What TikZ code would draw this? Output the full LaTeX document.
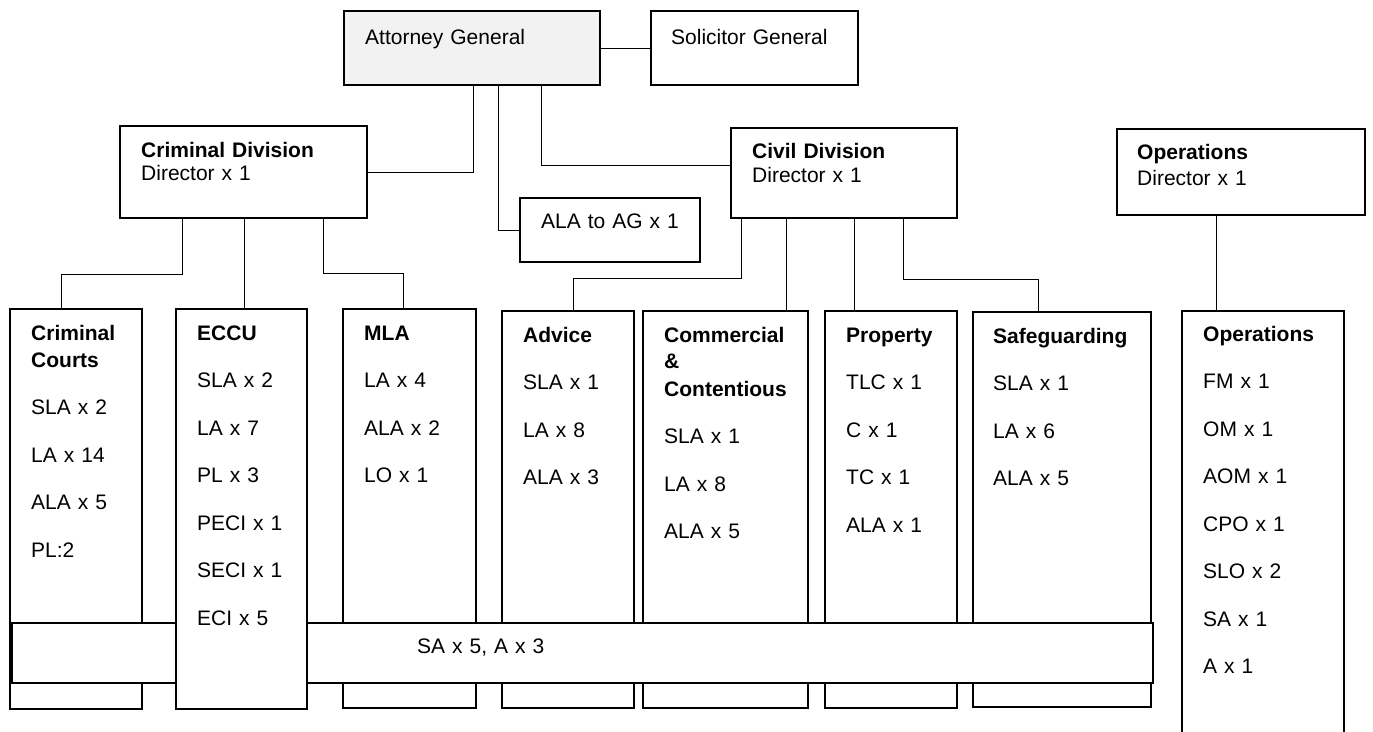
\documentclass[tikz,border=0pt]{standalone}
\usepackage{fontspec}
\setmainfont{Liberation Sans}
\definecolor{agfill}{HTML}{F2F2F2}
\tikzset{
  box/.style={draw, line width=1.8pt, anchor=north west, inner sep=0pt, outer sep=0pt, fill=white},
  band/.style={draw, line width=1.2pt, anchor=north west, inner sep=0pt, outer sep=0pt, fill=white},
  txt/.style={anchor=base west, inner sep=0pt, align=left, text width=#1, font=\fontsize{21}{47.5}\selectfont},
  txt/.default=170pt,
  link/.style={line width=1pt}
}
\begin{document}
\begin{tikzpicture}[x=1pt,y=-1pt]
\useasboundingbox (0,0) rectangle (1373,731);
%top row
\node[box, fill=agfill, minimum width=256pt, minimum height=74pt] (ag) at (344,11) {};
\node[box, minimum width=207pt, minimum height=74pt] (sg) at (651,11) {};
\node[box, minimum width=247pt, minimum height=92pt] (crim) at (120,126) {};
\node[box, minimum width=180pt, minimum height=64pt] (ala) at (520,198) {};
\node[box, minimum width=226pt, minimum height=90pt] (civ) at (731,128) {};
\node[box, minimum width=248pt, minimum height=86pt] (opsd) at (1117,129) {};
%units
\node[box, minimum width=132pt, minimum height=400pt] (cc) at (10,309) {};
\node[box, minimum width=133pt, minimum height=399pt] (mla) at (343,309) {};
\node[box, minimum width=132pt, minimum height=397pt] (adv) at (502,311) {};
\node[box, minimum width=165pt, minimum height=397pt] (com) at (643,311) {};
\node[box, minimum width=132pt, minimum height=397pt] (prop) at (825,311) {};
\node[box, minimum width=178pt, minimum height=395pt] (safe) at (973,312) {};
\node[box, minimum width=162pt, minimum height=460pt] (ops) at (1182,311) {};
\node[band, minimum width=1141pt, minimum height=60pt] (staff) at (12,623) {};
\node[box, minimum width=131pt, minimum height=400pt] (ec) at (176,309) {};
%links
\draw[link] (ag.east) -- (sg.west);
\draw[link] (crim.east) -| ([xshift=129pt]ag.south west);
\draw[link] (ala.west) -| ([xshift=154pt]ag.south west);
\draw[link] ([yshift=8pt]civ.west) -| ([xshift=197pt]ag.south west);
\draw[link] ([xshift=62pt]crim.south west) -- ++(0,56) -| ([xshift=51pt]cc.north west);
\draw[link] ([xshift=124pt]crim.south west) -- ([xshift=124pt]crim.south west |- ec.north);
\draw[link] ([xshift=203pt]crim.south west) -- ++(0,55) -| ([xshift=60pt]mla.north west);
\draw[link] ([xshift=10pt]civ.south west) -- ++(0,60) -| ([xshift=71pt]adv.north west);
\draw[link] ([xshift=55pt]civ.south west) -- ([xshift=55pt]civ.south west |- com.north);
\draw[link] ([xshift=123pt]civ.south west) -- ([xshift=123pt]civ.south west |- prop.north);
\draw[link] ([xshift=172pt]civ.south west) -- ++(0,61) -| ([xshift=65pt]safe.north west);
\draw[link] ([xshift=99pt]opsd.south west) -- ([xshift=99pt]opsd.south west |- ops.north);
%texts
\node[txt] (agt) at (365,44) {Attorney General};
\node[txt] (sgt) at (671,44) {Solicitor General};
\node[txt=220pt] (crimt) at (141,157) {\textbf{Criminal Division}\\[-24pt]Director x 1};
\node[txt] (alat) at (541,228) {ALA to AG x 1};
\node[txt=200pt] (civt) at (752,158) {\textbf{Civil Division}\\[-23pt]Director x 1};
\node[txt=200pt] (opsdt) at (1137,159) {\textbf{Operations}\\[-21.5pt]Director x 1};
\node[txt] (cct) at (31,340) {\textbf{Criminal}\\[-20.5pt]\textbf{Courts}\\SLA x 2\\LA x 14\\ALA x 5\\PL:2};
\node[txt] (ect) at (197,340) {\textbf{ECCU}\\SLA x 2\\LA x 7\\PL x 3\\PECI x 1\\SECI x 1\\ECI x 5};
\node[txt] (mlat) at (364,340) {\textbf{MLA}\\LA x 4\\ALA x 2\\LO x 1};
\node[txt] (advt) at (523,342) {\textbf{Advice}\\SLA x 1\\LA x 8\\ALA x 3};
\node[txt] (comt) at (664,342) {\textbf{Commercial}\\[-21pt]\textbf{\&}\\[-20pt]\textbf{Contentious}\\SLA x 1\\LA x 8\\ALA x 5};
\node[txt] (propt) at (846,342) {\textbf{Property}\\TLC x 1\\C x 1\\TC x 1\\ALA x 1};
\node[txt] (safet) at (993,343) {\textbf{Safeguarding}\\SLA x 1\\LA x 6\\ALA x 5};
\node[txt] (opst) at (1203,341) {\textbf{Operations}\\FM x 1\\OM x 1\\AOM x 1\\CPO x 1\\SLO x 2\\SA x 1\\A x 1};
\node[txt] (stafft) at (417,653) {SA x 5, A x 3};
\end{tikzpicture}
\end{document}
